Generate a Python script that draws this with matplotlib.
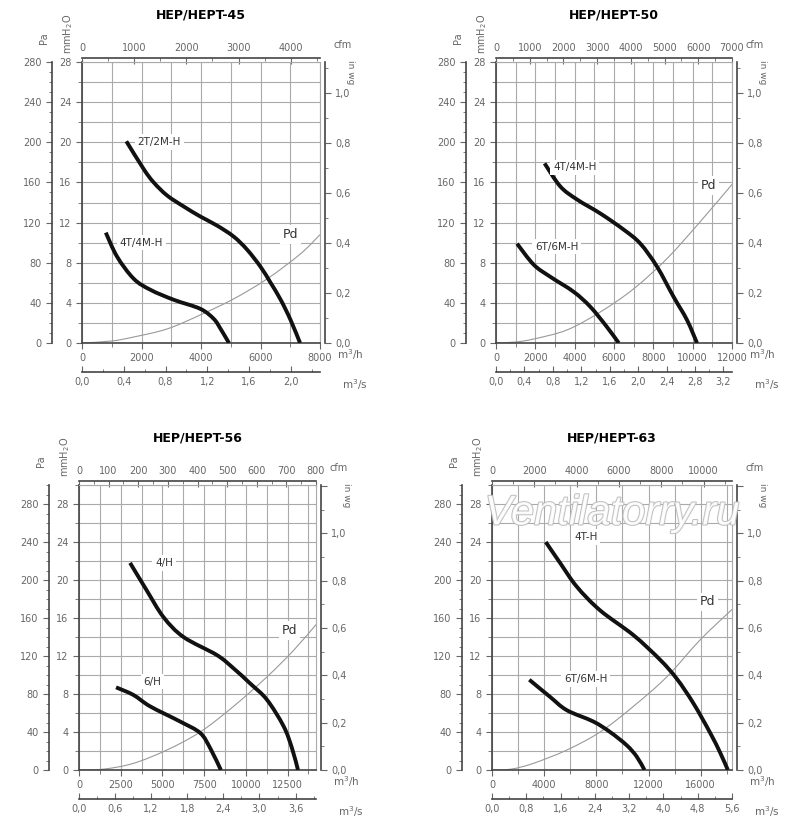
import numpy as np
import matplotlib
matplotlib.use("Agg")
import matplotlib.pyplot as plt
from matplotlib.ticker import MultipleLocator, FuncFormatter
from matplotlib.path import Path
from matplotlib.patches import PathPatch
import matplotlib.patheffects as pe

# --- data (x in m3/h, y in Pa) ---
titles = ["HEP/HEPT-45", "HEP/HEPT-50", "HEP/HEPT-56", "HEP/HEPT-63"]

c45_hi_x = [1490, 2080, 2410, 2860, 3420, 3980, 4540, 5100, 5550, 6000, 6340, 6680, 7010, 7330]
c45_hi_y = [201, 173, 160, 147, 136, 126, 117, 106, 93, 76, 60, 43, 23, 0]
c45_lo_x = [800, 1180, 1740, 2300, 3090, 3980, 4430, 4660, 4940]
c45_lo_y = [110, 86, 64, 53, 43, 34, 24, 14, 0]
pd45_x = [0, 1000, 1740, 2860, 3980, 5100, 6230, 7350, 8000]
pd45_y = [0, 2, 6, 14, 28, 44, 64, 89, 108]

c50_hi_x = [2470, 3270, 4120, 5310, 6490, 7340, 8190, 9030, 9710, 10220]
c50_hi_y = [179, 156, 143, 129, 113, 99, 76, 46, 23, 0]
c50_lo_x = [1070, 1920, 2760, 3950, 4800, 5640, 6240]
c50_lo_y = [99, 78, 66, 51, 36, 16, 0]
pd50_x = [0, 1000, 1920, 3610, 5310, 7000, 8690, 10390, 12000]
pd50_y = [0, 1, 4, 13, 31, 54, 84, 121, 158]

c56_hi_x = [3060, 4060, 5060, 6260, 8260, 9260, 10260, 11260, 12260, 12760, 13120]
c56_hi_y = [218, 189, 161, 140, 121, 107, 91, 74, 46, 23, 0]
c56_lo_x = [2220, 3260, 4260, 6060, 7260, 7860, 8500]
c56_lo_y = [87, 79, 67, 51, 39, 23, 0]
pd56_x = [0, 1500, 3260, 5260, 7260, 9260, 11260, 12860, 14200]
pd56_y = [0, 1, 7, 21, 40, 67, 98, 126, 153]

c63_hi_x = [4120, 5220, 6500, 8290, 10840, 12890, 14170, 15450, 16730, 17500, 18080]
c63_hi_y = [240, 218, 193, 168, 142, 116, 96, 70, 39, 18, 0]
c63_lo_x = [2860, 4450, 5730, 7770, 9050, 10330, 11100, 11690]
c63_lo_y = [95, 77, 63, 51, 40, 26, 14, 0]
pd63_x = [0, 1500, 3170, 5730, 8290, 10840, 13400, 15960, 18400]
pd63_y = [0, 1, 7, 21, 40, 67, 98, 137, 169]

labels = [("2T/2M-H", "4T/4M-H"), ("4T/4M-H", "6T/6M-H"), ("4/H", "6/H"), ("4T-H", "6T/6M-H")]

GRAY = "#666666"
GRID = "#aaaaaa"


def smooth_path(xs, ys):
    # bezier through the read points (catmull-rom handles)
    p = np.column_stack([xs, ys]).astype(float)
    verts = [p[0]]
    codes = [Path.MOVETO]
    for k in range(len(p) - 1):
        p0 = p[k - 1] if k > 0 else p[k]
        p3 = p[k + 2] if k + 2 < len(p) else p[k + 1]
        c1 = p[k] + (p[k + 1] - p0) / 6
        c2 = p[k + 1] - (p3 - p[k]) / 6
        verts += [c1, c2, p[k + 1]]
        codes += [Path.CURVE4] * 3
    return Path(verts, codes)


def draw(ax, xs, ys, **kw):
    ax.add_patch(PathPatch(smooth_path(xs, ys), fill=False, **kw))


fig = plt.figure(figsize=(8, 8.25), dpi=100)
W, H = 800, 825

panels = [
    dict(px=(82, 320, 62, 343), xmax=8000, ymax=280, gs=1000, ts=2000, cfm=4560, cs=1000, ms=2.28, mss=0.4,
         hi=(c45_hi_x, c45_hi_y), lo=(c45_lo_x, c45_lo_y), pd=(pd45_x, pd45_y),
         lab_hi=(2600, 200), lab_lo=(2000, 100), lab_pd=(7000, 108)),
    dict(px=(496, 732, 62, 343), xmax=12000, ymax=280, gs=1000, ts=2000, cfm=7000, cs=1000, ms=3.32, mss=0.4,
         hi=(c50_hi_x, c50_hi_y), lo=(c50_lo_x, c50_lo_y), pd=(pd50_x, pd50_y),
         lab_hi=(4000, 175), lab_lo=(3100, 96), lab_pd=(10800, 157)),
    dict(px=(79, 316, 485, 770), xmax=14200, ymax=300, gs=1250, ts=2500, cfm=800, cs=100, ms=3.94, mss=0.6,
         hi=(c56_hi_x, c56_hi_y), lo=(c56_lo_x, c56_lo_y), pd=(pd56_x, pd56_y),
         lab_hi=(5100, 218), lab_lo=(4400, 93), lab_pd=(12600, 147)),
    dict(px=(492, 732, 485, 770), xmax=18400, ymax=300, gs=2000, ts=4000, cfm=11340, cs=2000, ms=5.6, mss=0.8,
         hi=(c63_hi_x, c63_hi_y), lo=(c63_lo_x, c63_lo_y), pd=(pd63_x, pd63_y),
         lab_hi=(7200, 245), lab_lo=(7200, 96), lab_pd=(16500, 177)),
]

comma = lambda d: FuncFormatter(lambda v, p: ("%.*f" % (d, v)).replace(".", ","))
intfmt = FuncFormatter(lambda v, p: "%d" % round(v))
tkw = dict(labelsize=7, colors=GRAY, labelcolor=GRAY)

for i, P in enumerate(panels):
    l, r, t, b = P["px"]
    pw, ph = r - l, b - t
    ax = fig.add_axes([l / W, 1 - b / H, pw / W, ph / H])
    xmax, ymax = P["xmax"], P["ymax"]
    ax.set_xlim(0, xmax)
    ax.set_ylim(0, ymax)
    ax.xaxis.set_major_locator(MultipleLocator(P["ts"]))
    ax.xaxis.set_minor_locator(MultipleLocator(P["gs"]))
    ax.yaxis.set_major_locator(MultipleLocator(40))
    ax.yaxis.set_minor_locator(MultipleLocator(20))
    ax.grid(True, which="both", color=GRID, lw=0.8)
    ax.set_axisbelow(True)
    for s in ["top", "right"]:
        ax.spines[s].set_color(GRID)
    for s in ["left", "bottom"]:
        ax.spines[s].set_color("#444444")
        ax.spines[s].set_linewidth(1.2)
    ax.xaxis.set_major_formatter(intfmt)
    ax.yaxis.set_major_formatter(FuncFormatter(lambda v, p: "%d" % round(v / 10)))
    ax.tick_params(which="both", direction="out", length=4, **tkw)
    ax.tick_params(which="minor", length=3)

    # curves
    draw(ax, *P["pd"], color="#999999", lw=0.8)
    draw(ax, *P["hi"], color="#111111", lw=2.8, capstyle="butt", zorder=3)
    draw(ax, *P["lo"], color="#111111", lw=2.8, capstyle="butt", zorder=3)
    box = dict(facecolor="white", edgecolor="none", pad=2)
    ax.text(*P["lab_hi"], labels[i][0], fontsize=7.5, color="#333333", ha="center", va="center", bbox=box)
    ax.text(*P["lab_lo"], labels[i][1], fontsize=7.5, color="#333333", ha="center", va="center", bbox=box)
    ax.text(*P["lab_pd"], "Pd", fontsize=9, color="#333333", ha="center", va="center", bbox=box)

    # Pa axis (left, outer)
    pa = ax.secondary_yaxis(-30 / pw)
    pa.yaxis.set_major_locator(MultipleLocator(40))
    pa.yaxis.set_minor_locator(MultipleLocator(10))
    pa.tick_params(which="both", direction="out", length=4, **tkw)
    pa.tick_params(which="minor", length=2.5)
    pa.spines["left"].set_color("#444444")
    pa.spines["left"].set_linewidth(1.2)

    # in wg axis (right)
    wg = ax.secondary_yaxis(1 + 5 / pw, functions=(lambda y: y / 249.0, lambda y: y * 249.0))
    wg.yaxis.set_major_locator(MultipleLocator(0.2))
    wg.yaxis.set_minor_locator(MultipleLocator(0.1))
    wg.yaxis.set_major_formatter(FuncFormatter(lambda v, p: ("%.1f" % v).replace(".", ",") if v < 1.05 else ""))
    wg.tick_params(which="both", direction="out", length=4, **tkw)
    wg.tick_params(which="minor", length=2.5)
    wg.spines["right"].set_color("#444444")
    wg.spines["right"].set_linewidth(1.2)

    # cfm axis (top)
    fc = P["cfm"] / xmax
    cf = ax.secondary_xaxis(1 + 4 / ph, functions=(lambda x, f=fc: x * f, lambda x, f=fc: x / f))
    cf.xaxis.set_major_locator(MultipleLocator(P["cs"]))
    cf.xaxis.set_minor_locator(MultipleLocator(P["cs"] / 2))
    cf.xaxis.set_major_formatter(intfmt)
    cf.tick_params(which="both", direction="in", length=4, **tkw)
    cf.tick_params(which="minor", length=2.5)
    cf.spines["top"].set_color("#444444")
    cf.spines["top"].set_linewidth(1.2)

    # m3/s axis (bottom, outer)
    fm = P["ms"] / xmax
    ms = ax.secondary_xaxis(-29 / ph, functions=(lambda x, f=fm: x * f, lambda x, f=fm: x / f))
    ms.xaxis.set_major_locator(MultipleLocator(P["mss"]))
    ms.xaxis.set_minor_locator(MultipleLocator(P["mss"] / 2))
    ms.xaxis.set_major_formatter(comma(1))
    ms.tick_params(which="both", direction="in", length=4, **tkw)
    ms.tick_params(which="minor", length=2.5)
    ms.spines["bottom"].set_color("#444444")
    ms.spines["bottom"].set_linewidth(1.2)

    # unit labels
    ax.text(-38 / pw, 1 + 24 / ph, "Pa", transform=ax.transAxes, rotation=90, fontsize=7,
            color=GRAY, ha="center", va="center")
    ax.text(-14 / pw, 1 + 28 / ph, "mmH$_2$O", transform=ax.transAxes, rotation=90, fontsize=7,
            color=GRAY, ha="center", va="center")
    ax.text(1 + 30 / pw, 1 - 10 / ph, "in wg", transform=ax.transAxes, rotation=-90, fontsize=6.5,
            color=GRAY, ha="center", va="center")
    ax.text(1 + 14 / pw, 1 + 17 / ph, "cfm", transform=ax.transAxes, fontsize=7, color=GRAY,
            ha="left", va="center")
    ax.text(1 + 17 / pw, -12 / ph, "m$^3$/h", transform=ax.transAxes, fontsize=7.5, color=GRAY,
            ha="left", va="center")
    ax.text(1 + 22 / pw, -42 / ph, "m$^3$/s", transform=ax.transAxes, fontsize=7.5, color=GRAY,
            ha="left", va="center")
    fig.text((l + r) / 2 / W, 1 - (t - 47) / H, titles[i], fontsize=9, fontweight="bold",
             ha="center", va="center")

    if i == 3:
        ax.text(0.5, 0.9, "Ventilatorry.ru", transform=ax.transAxes, fontsize=30, style="italic",
                fontfamily="Liberation Sans", color="white", ha="center", va="center", alpha=0.9,
                path_effects=[pe.withStroke(linewidth=1.5, foreground="#bbbbbb")], zorder=5)

fig.savefig("out.png", dpi=100, facecolor="white")
